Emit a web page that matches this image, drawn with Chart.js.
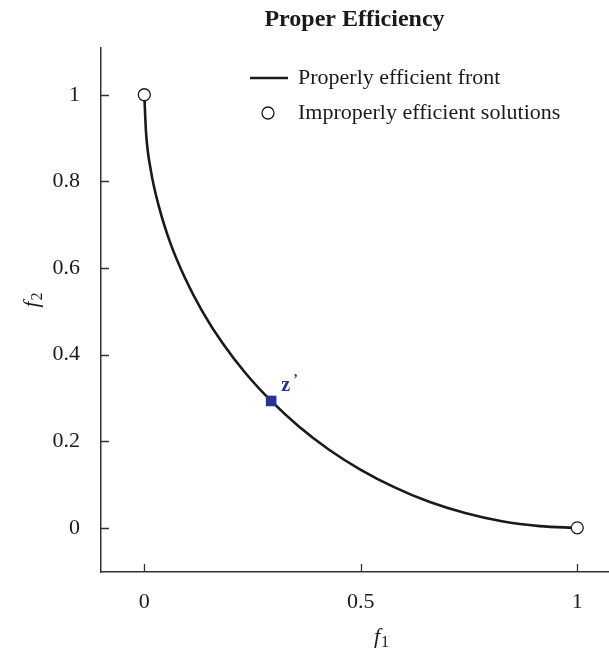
<!DOCTYPE html>
<html>
<head>
<meta charset="utf-8">
<title>Proper Efficiency</title>
<script src="https://cdn.jsdelivr.net/npm/chart.js@4.4.1/dist/chart.umd.min.js"></script>
<style>
  html, body { margin: 0; padding: 0; background: #fff; overflow: hidden; }
  canvas { display: block; }
</style>
</head>
<body>
<canvas id="chart" width="609" height="653"></canvas>
<script>
// Pareto front (f1, f2)
const frontF1 = [0, 0.004, 0.015, 0.034, 0.060, 0.094, 0.134, 0.181, 0.234, 0.293,
                 0.357, 0.426, 0.500, 0.577, 0.658, 0.741, 0.826, 0.913, 1];
const frontF2 = [1, 0.913, 0.826, 0.741, 0.658, 0.577, 0.500, 0.426, 0.357, 0.293,
                 0.234, 0.181, 0.134, 0.094, 0.060, 0.034, 0.015, 0.004, 0];

// improperly efficient end points
const improperF1 = [0, 1];
const improperF2 = [1, 0];

// reference point z'
const zPoint = { f1: 0.293, f2: 0.293 };

const xTicks = [0, 0.5, 1];
const yTicks = [0, 0.2, 0.4, 0.6, 0.8, 1];

const SERIF = '"Liberation Serif", "DejaVu Serif", serif';
const AXIS_COLOR = '#333333';

const toPoints = (xs, ys) => xs.map((x, i) => ({ x: x, y: ys[i] }));

// no extra room for overhanging tick labels
function noPadding(axis) {
    axis.paddingLeft = 0;
    axis.paddingRight = 0;
    axis.paddingTop = 0;
    axis.paddingBottom = 0;
}

// draws title, inward ticks, axis titles, legend and the z' label
const decorations = {
    id: 'decorations',
    afterDraw(chart) {
        const ctx = chart.ctx;
        const area = chart.chartArea;
        const xs = chart.scales.x;
        const ys = chart.scales.y;
        ctx.save();

        // title
        ctx.fillStyle = '#1a1a1a';
        ctx.font = 'bold 24px ' + SERIF;
        ctx.textAlign = 'center';
        ctx.textBaseline = 'middle';
        ctx.fillText('Proper Efficiency', (area.left + area.right) / 2, 20);

        // inward tick marks
        ctx.strokeStyle = AXIS_COLOR;
        ctx.lineWidth = 1.3;
        ctx.beginPath();
        xTicks.forEach(v => {
            const px = Math.round(xs.getPixelForValue(v)) + 0.5;
            ctx.moveTo(px, area.bottom);
            ctx.lineTo(px, area.bottom - 8);
        });
        yTicks.forEach(v => {
            const py = Math.round(ys.getPixelForValue(v)) + 0.5;
            ctx.moveTo(area.left, py);
            ctx.lineTo(area.left + 8, py);
        });
        ctx.stroke();

        // axis titles: italic f with subscript
        function axisTitle(x, y, sub, rotate) {
            ctx.save();
            ctx.translate(x, y);
            if (rotate) ctx.rotate(-Math.PI / 2);
            ctx.fillStyle = '#1a1a1a';
            ctx.textBaseline = 'alphabetic';
            ctx.textAlign = 'left';
            ctx.font = 'italic 22px ' + SERIF;
            const w = ctx.measureText('f').width;
            ctx.font = '16px ' + SERIF;
            const sw = ctx.measureText(sub).width;
            const start = -(w + sw + 1) / 2;
            ctx.font = 'italic 22px ' + SERIF;
            ctx.fillText('f', start, 7);
            ctx.font = '16px ' + SERIF;
            ctx.fillText(sub, start + w + 1, 11);
            ctx.restore();
        }
        axisTitle((area.left + area.right) / 2 + 27, 636, '1', false);
        axisTitle(31, (area.top + area.bottom) / 2 - 10, '2', true);

        // legend
        const front = chart.data.datasets[0];
        const improper = chart.data.datasets[1];
        ctx.font = '22px ' + SERIF;
        ctx.textAlign = 'left';
        ctx.textBaseline = 'middle';
        ctx.fillStyle = '#1a1a1a';

        ctx.strokeStyle = front.borderColor;
        ctx.lineWidth = front.borderWidth;
        ctx.beginPath();
        ctx.moveTo(250, 78);
        ctx.lineTo(288, 78);
        ctx.stroke();
        ctx.fillText(front.label, 298, 78);

        ctx.strokeStyle = improper.borderColor;
        ctx.lineWidth = improper.borderWidth;
        ctx.fillStyle = improper.backgroundColor;
        ctx.beginPath();
        ctx.arc(268, 113, improper.pointRadius, 0, Math.PI * 2);
        ctx.fill();
        ctx.stroke();
        ctx.fillStyle = '#1a1a1a';
        ctx.fillText(improper.label, 298, 113);

        // z' label next to the point
        const zx = xs.getPixelForValue(zPoint.f1);
        const zy = ys.getPixelForValue(zPoint.f2);
        ctx.fillStyle = '#2b3296';
        ctx.font = 'bold 20px ' + SERIF;
        ctx.textBaseline = 'alphabetic';
        ctx.fillText('z', zx + 10, zy - 10);
        ctx.font = 'bold 14px ' + SERIF;
        ctx.fillText('\u2019', zx + 22, zy - 17);

        ctx.restore();
    }
};

new Chart(document.getElementById('chart'), {
    type: 'scatter',
    data: {
        datasets: [
            {
                label: 'Properly efficient front',
                data: toPoints(frontF1, frontF2),
                showLine: true,
                borderColor: '#1a1a1a',
                borderWidth: 2.6,
                pointRadius: 0,
                cubicInterpolationMode: 'monotone',
                order: 3
            },
            {
                label: 'Improperly efficient solutions',
                data: toPoints(improperF1, improperF2),
                pointStyle: 'circle',
                pointRadius: 6,
                borderColor: '#1a1a1a',
                borderWidth: 1.3,
                backgroundColor: '#ffffff',
                order: 1
            },
            {
                label: 'z\u2019',
                data: [{ x: zPoint.f1, y: zPoint.f2 }],
                pointStyle: 'rect',
                pointRadius: 7.5,
                borderWidth: 0,
                backgroundColor: '#2b3296',
                order: 1
            }
        ]
    },
    options: {
        responsive: false,
        animation: false,
        events: [],
        layout: {
            autoPadding: false,
            padding: { top: 48, right: 1, left: 0, bottom: 0 }
        },
        plugins: {
            legend: { display: false },
            title: { display: false },
            tooltip: { enabled: false }
        },
        scales: {
            x: {
                type: 'linear',
                min: -0.1,
                max: 1.071,
                afterBuildTicks: axis => { axis.ticks = xTicks.map(v => ({ value: v })); },
                afterFit: axis => { axis.height = 81; noPadding(axis); },
                grid: { display: false, drawTicks: false },
                border: { display: true, color: AXIS_COLOR, width: 1.5 },
                ticks: {
                    padding: 17,
                    color: '#1a1a1a',
                    font: { family: SERIF, size: 22 },
                    callback: v => String(v)
                }
            },
            y: {
                type: 'linear',
                min: -0.102,
                max: 1.108,
                afterBuildTicks: axis => { axis.ticks = yTicks.map(v => ({ value: v })); },
                afterFit: axis => { axis.width = 101; noPadding(axis); },
                grid: { display: false, drawTicks: false },
                border: { display: true, color: AXIS_COLOR, width: 1.5 },
                ticks: {
                    padding: 21,
                    color: '#1a1a1a',
                    font: { family: SERIF, size: 22 },
                    callback: v => String(v)
                }
            }
        }
    },
    plugins: [decorations]
});
</script>
</body>
</html>
